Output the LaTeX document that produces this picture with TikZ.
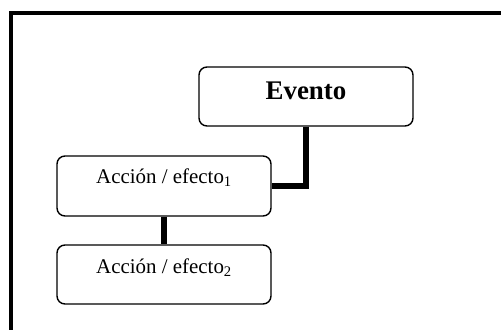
\documentclass[tikz,border=0pt]{standalone}
\usepackage{fontspec}
\setmainfont{Liberation Serif}
\begin{document}
\begin{tikzpicture}[x=1bp, y=-1bp,
  box/.style={draw, line width=1.4bp, rounded corners=8bp, anchor=base,
    minimum width=214bp, inner xsep=0pt, inner ysep=0pt, align=center},
  link/.style={line width=5.5bp, line join=miter}]
  \clip (0,0) rectangle (501,329);
  \useasboundingbox (0,0) rectangle (501,329);
  % outer frame (its right and bottom sides run off the page)
  \draw[line width=4bp] (11,345) -- (11,13) -- (520,13);
  % boxes
  \node[box, text height=32bp, text depth=27bp, font=\fontsize{27}{30}\selectfont\bfseries]
    (ev) at (306,99) {Evento};
  \node[box, text height=27bp, text depth=33bp, font=\fontsize{21}{24}\selectfont]
    (a1) at (164,183) {Acción / efecto\textsubscript{1}};
  \node[box, text height=28bp, text depth=31bp, font=\fontsize{21}{24}\selectfont]
    (a2) at (164,273) {Acción / efecto\textsubscript{2}};
  % connectors
  \draw[link] (ev.south) |- (a1.east);
  \draw[link] (a1.south) -- (a2.north);
\end{tikzpicture}
\end{document}
